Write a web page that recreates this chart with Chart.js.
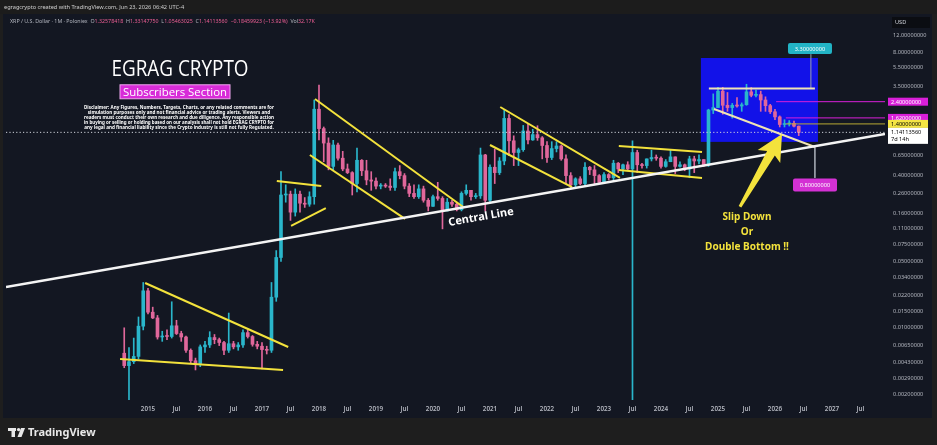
<!DOCTYPE html>
<html>
<head>
<meta charset="utf-8">
<title>XRP / U.S. Dollar - 1M - Poloniex</title>
<script src="https://cdn.jsdelivr.net/npm/chart.js"></script>
<style>
  html, body { margin: 0; padding: 0; background: #1e1e1e; }
  canvas { display: block; }
</style>
</head>
<body>
<canvas id="xrpChart" width="937" height="445"></canvas>
<script>
// monthly candles, first bar = Aug 2014
const firstMonth = 2014 + 7 / 12;

const opens = [
  0.0054, 0.0040, 0.0044, 0.0050, 0.0104,
  0.0245, 0.0146, 0.0127, 0.0080, 0.0082, 0.0081, 0.0105, 0.0087, 0.0080, 0.0058, 0.0045, 0.0042,
  0.0063, 0.0066, 0.0079, 0.0075, 0.0070, 0.0058, 0.0068, 0.0063, 0.0066, 0.0089, 0.0081, 0.0067,
  0.0064, 0.0059, 0.0058, 0.021, 0.055, 0.25, 0.255, 0.165, 0.255, 0.205, 0.20, 0.24,
  2.00, 1.25, 0.88, 0.50, 0.84, 0.61, 0.47, 0.43, 0.33, 0.58, 0.45, 0.36,
  0.35, 0.31, 0.315, 0.31, 0.30, 0.44, 0.40, 0.31, 0.26, 0.24, 0.29, 0.22,
  0.19, 0.24, 0.23, 0.17, 0.21, 0.20, 0.175, 0.26, 0.28, 0.24, 0.245, 0.66,
  0.22, 0.49, 0.43, 0.57, 1.60, 0.93, 0.70, 0.75, 1.18, 0.95, 1.08, 1.00,
  0.83, 0.62, 0.77, 0.82, 0.60, 0.40, 0.32, 0.37, 0.33, 0.49, 0.46, 0.40,
  0.34, 0.41, 0.38, 0.54, 0.47, 0.52, 0.47, 0.70, 0.52, 0.51, 0.60, 0.62,
  0.61, 0.50, 0.56, 0.63, 0.50, 0.52, 0.47, 0.60, 0.57, 0.59, 0.52, 1.96,
  2.08, 3.10, 2.20, 2.08, 2.20, 2.16, 2.23, 3.05, 2.80, 2.85, 2.50, 2.18,
  1.88, 1.66, 1.38, 1.40, 1.42, 1.32578418
];
const highs = [
  0.0100, 0.0062, 0.0078, 0.0130, 0.0300,
  0.0260, 0.0165, 0.0135, 0.0092, 0.0095, 0.0188, 0.0120, 0.0092, 0.0082, 0.0060, 0.0048, 0.0066,
  0.0072, 0.0091, 0.0085, 0.0078, 0.0072, 0.0143, 0.0072, 0.0070, 0.0095, 0.0095, 0.0083, 0.0072,
  0.0070, 0.0064, 0.030, 0.065, 0.44, 0.32, 0.275, 0.29, 0.275, 0.235, 0.27, 2.50,
  3.60, 1.30, 1.00, 0.94, 0.88, 0.72, 0.53, 0.44, 0.78, 0.59, 0.58, 0.44,
  0.38, 0.33, 0.33, 0.37, 0.48, 0.51, 0.42, 0.33, 0.32, 0.32, 0.31, 0.23,
  0.25, 0.34, 0.24, 0.23, 0.22, 0.21, 0.27, 0.32, 0.28, 0.26, 0.78, 0.67,
  0.52, 0.76, 0.62, 1.96, 1.76, 1.05, 0.78, 1.35, 1.41, 1.23, 1.34, 1.03,
  0.91, 0.91, 0.91, 0.84, 0.66, 0.43, 0.38, 0.39, 0.55, 0.50, 0.51, 0.41,
  0.43, 0.42, 0.58, 0.55, 0.53, 0.56, 0.93, 0.74, 0.54, 0.60, 0.74, 0.66,
  0.63, 0.59, 0.74, 0.63, 0.56, 0.53, 0.64, 0.64, 0.66, 0.59, 2.00, 2.90,
  3.40, 3.40, 3.00, 2.30, 2.65, 2.33, 3.66, 3.38, 3.18, 3.10, 2.70, 2.25,
  2.00, 1.70, 1.55, 1.52, 1.50, 1.3314775
];
const lows = [
  0.0038, 0.0016, 0.0042, 0.0047, 0.0095,
  0.0140, 0.0125, 0.0076, 0.0072, 0.0075, 0.0078, 0.0085, 0.0072, 0.0055, 0.0042, 0.0036, 0.0039,
  0.0055, 0.0062, 0.0068, 0.0065, 0.0052, 0.0055, 0.0060, 0.0058, 0.0062, 0.0078, 0.0064, 0.0060,
  0.0037, 0.0053, 0.0055, 0.019, 0.050, 0.21, 0.135, 0.15, 0.165, 0.185, 0.19, 0.20,
  0.95, 0.56, 0.46, 0.45, 0.58, 0.45, 0.42, 0.25, 0.27, 0.40, 0.32, 0.28,
  0.29, 0.29, 0.30, 0.28, 0.28, 0.37, 0.29, 0.24, 0.23, 0.23, 0.21, 0.17,
  0.19, 0.22, 0.11, 0.17, 0.19, 0.17, 0.17, 0.25, 0.22, 0.23, 0.23, 0.17,
  0.21, 0.33, 0.41, 0.52, 0.65, 0.51, 0.51, 0.72, 0.86, 0.94, 0.94, 0.60,
  0.55, 0.59, 0.71, 0.58, 0.33, 0.29, 0.30, 0.32, 0.32, 0.41, 0.32, 0.33,
  0.34, 0.36, 0.35, 0.43, 0.41, 0.45, 0.0015, 0.43, 0.48, 0.48, 0.57, 0.58,
  0.48, 0.49, 0.56, 0.42, 0.49, 0.45, 0.38, 0.43, 0.53, 0.50, 0.50, 1.80,
  2.08, 1.77, 1.90, 1.61, 2.10, 1.90, 2.20, 2.70, 2.70, 1.90, 1.90, 1.80,
  1.55, 1.30, 1.30, 1.33, 1.30, 1.05463025
];
const closes = [
  0.0040, 0.0044, 0.0050, 0.0104, 0.0245,
  0.0146, 0.0127, 0.0080, 0.0082, 0.0081, 0.0105, 0.0087, 0.0080, 0.0058, 0.0045, 0.0042, 0.0063,
  0.0066, 0.0079, 0.0075, 0.0070, 0.0058, 0.0068, 0.0063, 0.0066, 0.0089, 0.0081, 0.0067, 0.0064,
  0.0059, 0.0058, 0.021, 0.055, 0.25, 0.255, 0.165, 0.255, 0.205, 0.20, 0.24, 2.00,
  1.25, 0.88, 0.50, 0.84, 0.61, 0.47, 0.43, 0.33, 0.58, 0.45, 0.36, 0.35,
  0.31, 0.315, 0.31, 0.30, 0.44, 0.40, 0.31, 0.26, 0.24, 0.29, 0.22, 0.19,
  0.24, 0.23, 0.17, 0.21, 0.20, 0.175, 0.26, 0.28, 0.24, 0.245, 0.66, 0.22,
  0.49, 0.43, 0.57, 1.60, 0.93, 0.70, 0.75, 1.18, 0.95, 1.08, 1.00, 0.83,
  0.62, 0.77, 0.82, 0.60, 0.40, 0.32, 0.37, 0.33, 0.49, 0.46, 0.40, 0.34,
  0.41, 0.38, 0.54, 0.47, 0.52, 0.47, 0.70, 0.52, 0.51, 0.60, 0.62, 0.61,
  0.50, 0.56, 0.63, 0.50, 0.52, 0.47, 0.60, 0.57, 0.59, 0.52, 1.96, 2.08,
  3.10, 2.20, 2.08, 2.20, 2.16, 2.23, 3.05, 2.80, 2.85, 2.50, 2.18, 1.88,
  1.66, 1.38, 1.40, 1.42, 1.32573483, 1.1411356
];
const volumeText = '32.17K';

// axis ticks
const yTicks = [0.002, 0.0029, 0.0043, 0.0065, 0.01, 0.015, 0.022, 0.034, 0.05, 0.075,
  0.11, 0.16, 0.26, 0.4, 0.65, 3.5, 5.5, 8, 12];
const xTicks = [2015, 2015.5, 2016, 2016.5, 2017, 2017.5, 2018, 2018.5, 2019, 2019.5,
  2020, 2020.5, 2021, 2021.5, 2022, 2022.5, 2023, 2023.5, 2024, 2024.5,
  2025, 2025.5, 2026, 2026.5, 2027, 2027.5];

// drawings, as [year, price] pairs
const channelLines = [
  [[2014.51, 0.00469], [2017.37, 0.0036]],
  [[2014.95, 0.0296], [2017.46, 0.00628]],
  [[2017.26, 0.351], [2018.04, 0.311]],
  [[2017.51, 0.118], [2018.12, 0.182]],
  [[2017.93, 2.56], [2020.53, 0.187]],
  [[2017.84, 0.659], [2019.51, 0.14]],
  [[2021.18, 2.11], [2023.28, 0.378]],
  [[2021.0, 0.84], [2022.44, 0.303]],
  [[2023.26, 0.82], [2024.72, 0.709]],
  [[2023.26, 0.458], [2024.72, 0.378]]
];
const boxLines = [
  [[2024.84, 3.3], [2026.70, 3.3]],
  [[2024.93, 2.01], [2026.70, 0.80]]
];
const centralLine = [[2012.509, 0.0269], [2027.93, 1.097]];
const stemLines = [
  [[2026.63, 3.3], [2026.63, 7.6]],
  [[2026.70, 0.80], [2026.70, 0.378]]
];
const levelPrices = [2.4, 1.62, 1.4];
const levelStarts = [2026.02, 2026.19, 2026.19];
const targetHigh = 3.3;
const targetLow = 0.8;
const boxYears = [2024.70, 2026.754];
const boxPrices = [6.92, 0.906];

const X_MIN = 2012.509, X_MAX = 2027.93;
const Y_MIN = 0.001738, Y_MAX = 20.1;
const lastClose = closes[closes.length - 1];

const UP = '#2ab6cb';
const DOWN = '#e0679b';
const YELLOW = '#f3e23c';
const PALE = '#efe3b4';
const MAGENTA = '#d91fd9';

const months = opens.map((_, i) => firstMonth + i / 12);
const candleColor = c => closes[c.dataIndex] >= opens[c.dataIndex] ? UP : DOWN;

function lineSet(seg, color, width, order, dash) {
  return {
    type: 'line',
    data: seg.map(([x, y]) => ({x, y})),
    borderColor: color,
    borderWidth: width,
    borderDash: dash || [],
    pointRadius: 0,
    order: order
  };
}

const datasets = [
  lineSet(centralLine, '#f4f4f4', 2.5, 1),
  ...channelLines.map(s => lineSet(s, YELLOW, 2, 1)),
  ...boxLines.map(s => lineSet(s, PALE, 2, 1)),
  ...stemLines.map(s => lineSet(s, '#9aa0aa', 1, 2)),
  ...levelPrices.map((p, i) => lineSet([[levelStarts[i], p], [X_MAX, p]], i === 2 ? '#b9a934' : MAGENTA, 1, 2)),
  lineSet([[X_MIN, lastClose], [X_MAX, lastClose]], '#cfd3db', 1, 2, [1.2, 2.2]),
  {
    type: 'bar',
    data: months.map((t, i) => ({x: t, y: [opens[i], closes[i]]})),
    backgroundColor: candleColor,
    barThickness: 3,
    minBarLength: 1,
    grouped: false,
    order: 5
  },
  {
    type: 'bar',
    data: months.map((t, i) => ({x: t, y: [lows[i], highs[i]]})),
    backgroundColor: candleColor,
    barThickness: 1,
    grouped: false,
    order: 6
  }
];

function fmt(v) { return v.toFixed(8); }

const overlay = {
  id: 'overlay',
  beforeDraw(chart) {
    const {ctx, width, height} = chart;
    ctx.save();
    ctx.fillStyle = '#1e1e1e';
    ctx.fillRect(0, 0, width, height);
    ctx.fillStyle = '#131722';
    ctx.fillRect(3, 14, 929, 404);
    ctx.restore();
  },
  beforeDatasetsDraw(chart) {
    const {ctx, chartArea: a, scales: {x, y}} = chart;
    ctx.save();
    ctx.beginPath();
    ctx.rect(a.left, a.top, a.right - a.left, a.bottom - a.top);
    ctx.clip();
    const x0 = x.getPixelForValue(boxYears[0]), x1 = x.getPixelForValue(boxYears[1]);
    const y0 = y.getPixelForValue(boxPrices[0]), y1 = y.getPixelForValue(boxPrices[1]);
    ctx.fillStyle = 'rgba(18, 18, 248, 0.93)';
    ctx.fillRect(x0, y0, x1 - x0, y1 - y0);
    ctx.restore();
  },
  afterDatasetsDraw(chart) {
    const {ctx, chartArea: a, scales: {x, y}} = chart;
    const X = v => x.getPixelForValue(v);
    const Y = v => y.getPixelForValue(v);
    ctx.save();
    ctx.beginPath();
    ctx.rect(a.left, a.top, a.right - a.left, a.bottom - a.top);
    ctx.clip();
    ctx.textAlign = 'center';
    ctx.textBaseline = 'middle';

    // title block
    ctx.fillStyle = '#ffffff';
    ctx.font = '21px "Open Sans"';
    ctx.fillText('EGRAG CRYPTO', X(2015.561), Y(5.11), 137);
    const bx = X(2015.474), by = Y(3.05);
    ctx.fillStyle = '#d82cd8';
    ctx.fillRect(bx - 55, by - 7, 110, 14);
    ctx.strokeStyle = '#f0a8f0';
    ctx.lineWidth = 1;
    ctx.strokeRect(bx - 55, by - 7, 110, 14);
    ctx.fillStyle = '#ffffff';
    ctx.font = '11.5px "Open Sans"';
    ctx.fillText('Subscribers Section', bx, by + 0.5, 104);
    const disclaimer = [
      'Disclaimer: Any Figures, Numbers, Targets, Charts, or any related comments are for',
      'simulation purposes only and not financial advice or trading alerts. Viewers and',
      'readers must conduct their own research and due diligence. Any responsible action',
      'in buying or selling or holding based on our analysis shall not hold EGRAG CRYPTO for',
      'any legal and financial liability since the Crypto industry is still not fully Regulated.'
    ];
    ctx.font = 'bold 4.6px "Noto Sans"';
    const dx = X(2015.544), dy = Y(2.075);
    disclaimer.forEach((t, i) => ctx.fillText(t, dx, dy + i * 4.9, 190));

    // central line label, following the line's slope
    const ang = Math.atan2(Y(centralLine[1][1]) - Y(centralLine[0][1]), X(centralLine[1][0]) - X(centralLine[0][0]));
    ctx.save();
    ctx.translate(X(2020.842), Y(0.146));
    ctx.rotate(ang);
    ctx.font = 'bold 11px "Noto Sans"';
    ctx.fillStyle = '#ffffff';
    ctx.fillText('Central Line', 0, 0);
    ctx.restore();

    // arrow
    const tx = X(2025.386), ty = Y(0.188), hx = X(2026.123), hy = Y(1.094);
    const len = Math.hypot(hx - tx, hy - ty);
    ctx.save();
    ctx.translate(tx, ty);
    ctx.rotate(Math.atan2(hy - ty, hx - tx));
    ctx.beginPath();
    ctx.moveTo(0, -1.5);
    ctx.lineTo(len - 22, -4.5);
    ctx.lineTo(len - 26, -13);
    ctx.lineTo(len, 0);
    ctx.lineTo(len - 26, 13);
    ctx.lineTo(len - 22, 4.5);
    ctx.lineTo(0, 1.5);
    ctx.closePath();
    ctx.fillStyle = YELLOW;
    ctx.fill();
    ctx.restore();

    // note
    ctx.fillStyle = YELLOW;
    ctx.font = 'bold 10px "Noto Sans"';
    ['Slip Down', 'Or', 'Double Bottom !!'].forEach((t, i) => ctx.fillText(t, X(2025.509), Y(0.146) + i * 15));

    // target tags
    ctx.font = '5.6px "Noto Sans"';
    const tag = (cx, cy, w, h, bg, text) => {
      ctx.beginPath();
      ctx.roundRect(cx - w / 2, cy - h / 2, w, h, 2);
      ctx.fillStyle = bg;
      ctx.fill();
      ctx.fillStyle = '#ffffff';
      ctx.fillText(text, cx, cy + 0.5);
    };
    tag(X(2026.614), Y(8.7), 44, 11, '#22b4c6', fmt(targetHigh));
    tag(X(2026.702), Y(0.318), 44, 13, '#d431d4', fmt(targetLow));
    ctx.restore();
  },
  afterDraw(chart) {
    const {ctx, scales: {y}} = chart;
    ctx.save();
    ctx.textBaseline = 'middle';
    ctx.textAlign = 'left';
    ctx.font = '5.6px "Noto Sans"';
    const tagBg = [MAGENTA, MAGENTA, '#f4e544'];
    const tagFg = ['#ffffff', '#ffffff', '#000000'];
    levelPrices.forEach((p, i) => {
      const py = y.getPixelForValue(p);
      ctx.fillStyle = tagBg[i];
      ctx.fillRect(888, py - 4, 40, 8);
      ctx.fillStyle = tagFg[i];
      ctx.fillText(fmt(p), 891, py + 0.3);
    });
    const cy = y.getPixelForValue(lastClose);
    ctx.fillStyle = '#ffffff';
    ctx.fillRect(888, cy - 4.5, 40, 16);
    ctx.fillStyle = '#000000';
    ctx.fillText(fmt(lastClose), 891, cy);
    ctx.fillText('7d 14h', 891, cy + 7);

    // currency box
    ctx.fillStyle = '#0b0d12';
    ctx.fillRect(892, 17, 38, 11);
    ctx.fillStyle = '#d1d4dc';
    ctx.fillText('USD', 895, 22.5);

    // header
    ctx.fillStyle = '#1c1c1c';
    ctx.fillRect(0, 0, 937, 14);
    ctx.fillStyle = '#d0d0d0';
    ctx.font = '5.6px "Noto Sans"';
    ctx.fillText('egragcrypto created with TradingView.com, Jun 23, 2026 06:42 UTC-4', 4, 7.5);
    const n = closes.length;
    const chg = lastClose - closes[n - 2];
    const pct = chg / closes[n - 2] * 100;
    const gray = '#b2b5be', pink = '#ee5f95';
    const parts = [
      ['XRP / U.S. Dollar · 1M · Poloniex  ', gray],
      ['O', gray], [fmt(opens[n - 1]) + '  ', pink],
      ['H', gray], [fmt(highs[n - 1]) + '  ', pink],
      ['L', gray], [fmt(lows[n - 1]) + '  ', pink],
      ['C', gray], [fmt(lastClose) + '  ' + (chg < 0 ? '−' : '+') + Math.abs(chg).toFixed(8) +
        ' (' + (pct < 0 ? '−' : '+') + Math.abs(pct).toFixed(2) + '%)  ', pink],
      ['Vol', gray], [volumeText, pink]
    ];
    let px = 10;
    ctx.font = '5.3px "Noto Sans"';
    parts.forEach(([t, c]) => {
      ctx.fillStyle = c;
      ctx.fillText(t, px, 21);
      px += ctx.measureText(t).width;
    });

    // footer logo
    ctx.fillStyle = '#e8e8e8';
    ctx.fillRect(8, 428, 8, 3);
    ctx.fillRect(11.5, 428, 3.5, 9);
    ctx.beginPath();
    ctx.arc(18.6, 429.6, 1.7, 0, Math.PI * 2);
    ctx.fill();
    ctx.beginPath();
    ctx.moveTo(21, 428);
    ctx.lineTo(25, 428);
    ctx.lineTo(21.5, 437);
    ctx.lineTo(17.5, 437);
    ctx.closePath();
    ctx.fill();
    ctx.font = 'bold 11px "Noto Sans"';
    ctx.fillText('TradingView', 28, 432.5);
    ctx.restore();
  }
};

new Chart(document.getElementById('xrpChart'), {
  type: 'bar',
  data: {datasets: datasets},
  options: {
    responsive: false,
    animation: false,
    events: [],
    layout: {padding: {left: 6, top: 14, right: 0, bottom: 27}},
    plugins: {legend: {display: false}, tooltip: {enabled: false}},
    scales: {
      x: {
        type: 'linear',
        min: X_MIN,
        max: X_MAX,
        offset: false,
        bounds: 'data',
        grid: {display: false, drawTicks: false},
        border: {display: false},
        afterBuildTicks: s => { s.ticks = xTicks.map(v => ({value: v})); },
        afterFit: s => { s.height = 18; },
        ticks: {
          autoSkip: false,
          maxRotation: 0,
          padding: 5,
          color: '#b2b5be',
          font: {family: 'Noto Sans', size: 6.3, weight: '600'},
          callback: v => Number.isInteger(v) ? String(v) : 'Jul'
        }
      },
      y: {
        type: 'logarithmic',
        position: 'right',
        min: Y_MIN,
        max: Y_MAX,
        bounds: 'data',
        grid: {display: false, drawTicks: false},
        border: {display: false},
        afterBuildTicks: s => { s.ticks = yTicks.map(v => ({value: v})); },
        afterFit: s => { s.width = 52; },
        ticks: {
          autoSkip: false,
          padding: 8,
          color: '#b2b5be',
          font: {family: 'Noto Sans', size: 5.6},
          callback: v => fmt(v)
        }
      }
    }
  },
  plugins: [overlay]
});
</script>
</body>
</html>
